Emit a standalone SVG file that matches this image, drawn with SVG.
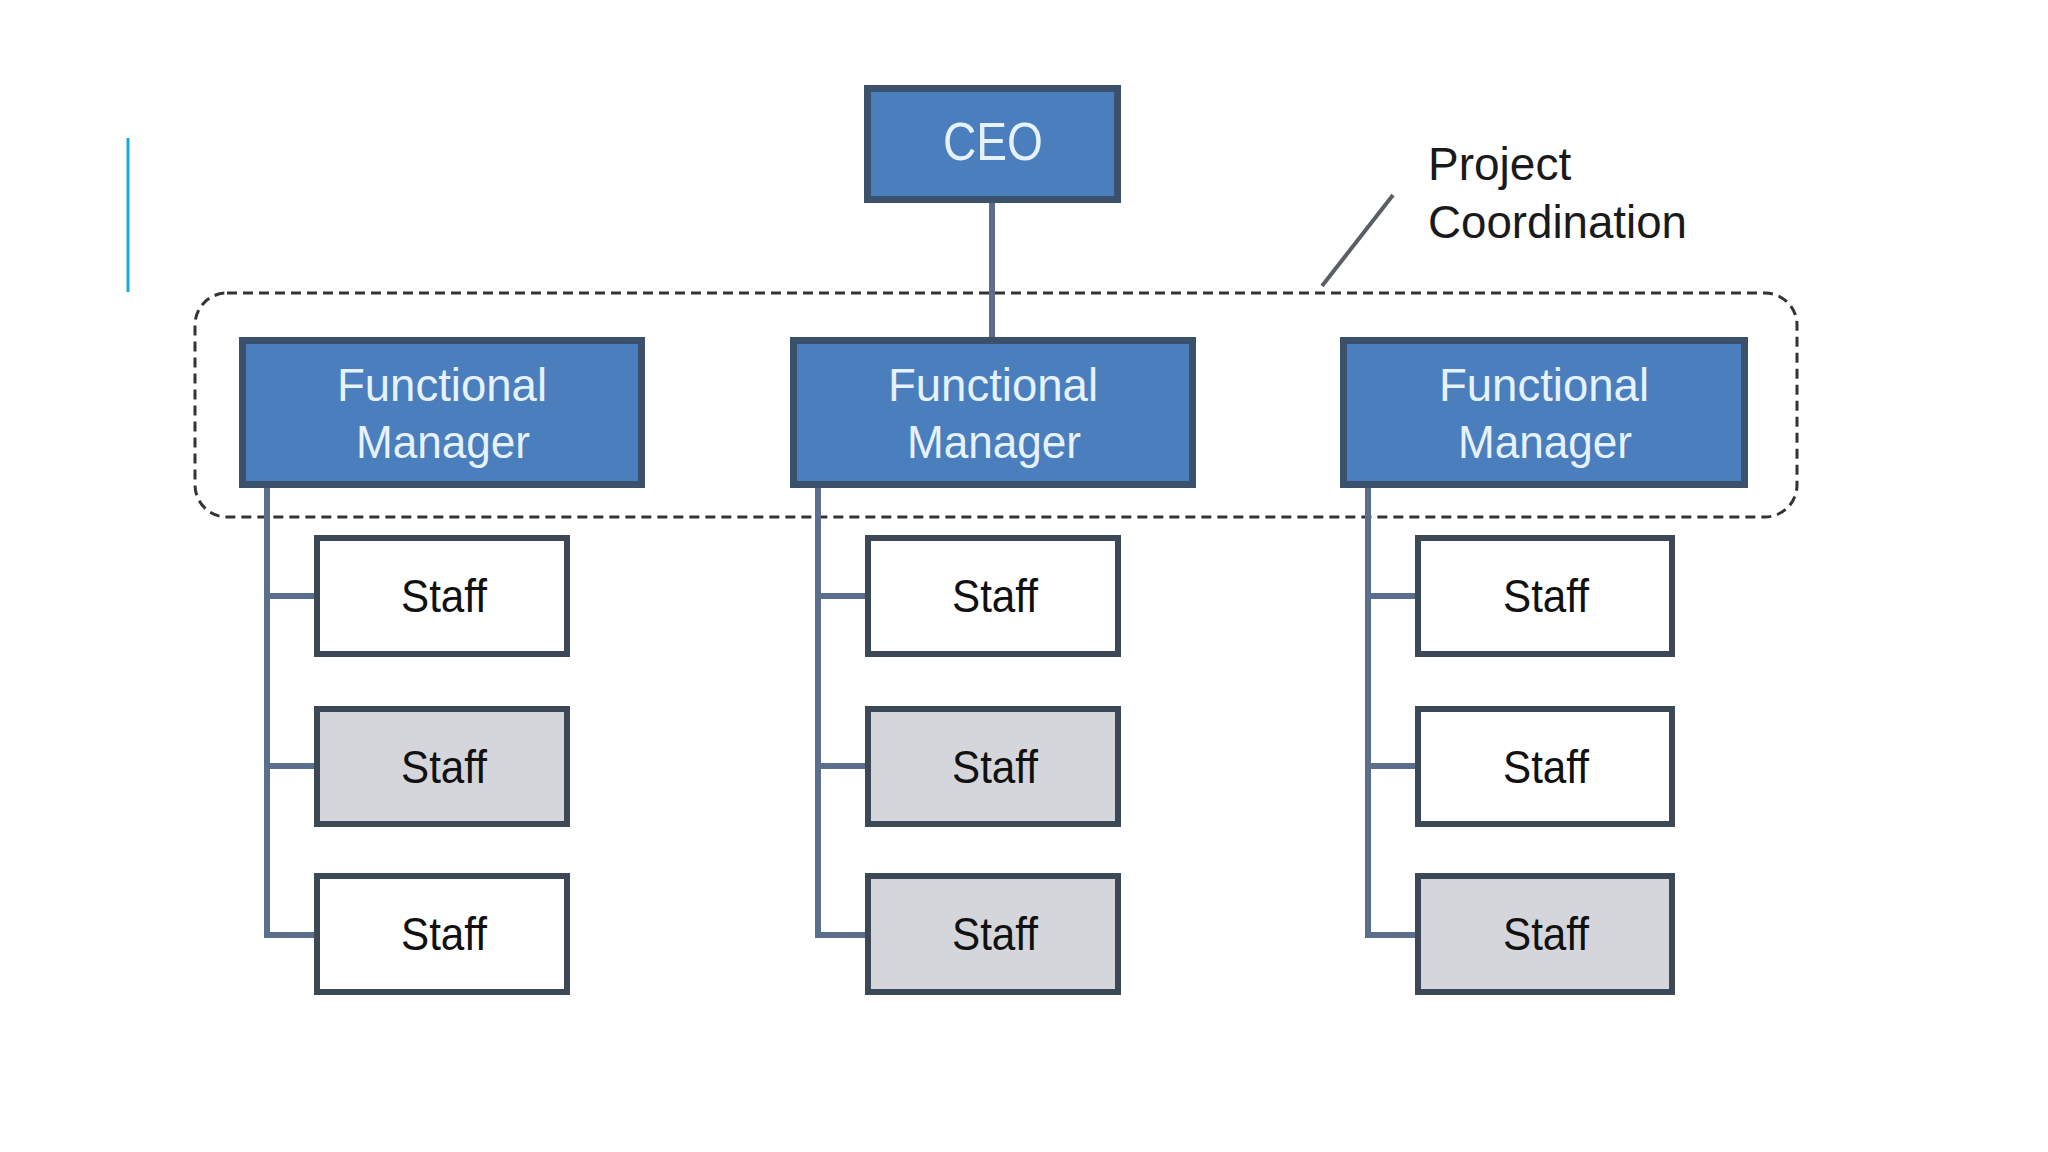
<svg xmlns="http://www.w3.org/2000/svg" width="2048" height="1152" viewBox="0 0 2048 1152">
<style>
.mgr{fill:#4a7ebc;stroke:#3b506b;stroke-width:7}
.staff{fill:#ffffff;stroke:#3d4856;stroke-width:6}
.gray{fill:#d5d6db}
.wt{font-family:"Liberation Sans",Arial,sans-serif;font-size:47px;fill:#e6f2ff;text-anchor:middle}
.ceo{font-size:54px}
.st{font-family:"Liberation Sans",Arial,sans-serif;font-size:47px;fill:#111;text-anchor:middle}
.lbl{font-family:"Liberation Sans",Arial,sans-serif;font-size:46px;fill:#1a1a1a}
.conn{fill:none;stroke:#5b6f8d;stroke-width:6}
</style>
<rect width="2048" height="1152" fill="#ffffff"/>
<line x1="128" y1="138" x2="128" y2="292" stroke="#1ba9e6" stroke-width="3"/>
<rect id="project-coordination-boundary" x="195" y="293" width="1602" height="224" rx="32" fill="none" stroke="#333" stroke-width="3" stroke-dasharray="10 6"/>
<g id="connectors">
<line class="conn" x1="992" y1="203" x2="992" y2="337"/>
<path class="conn" d="M267 488 V935 H314 M267 596 H314 M267 766 H314"/>
<path class="conn" d="M818 488 V935 H865 M818 596 H865 M818 766 H865"/>
<path class="conn" d="M1368 488 V935 H1415 M1368 596 H1415 M1368 766 H1415"/>
<line x1="1393" y1="195" x2="1322" y2="286" stroke="#5a5f66" stroke-width="4"/>
</g>
<g id="label-project-coordination">
<text class="lbl" x="1428" y="180">Project</text>
<text class="lbl" x="1428" y="238" textLength="259" lengthAdjust="spacingAndGlyphs">Coordination</text>
</g>
<g id="ceo">
<rect class="mgr" x="867.5" y="88.5" width="250" height="111"/>
<text class="wt ceo" x="993" y="160" textLength="100" lengthAdjust="spacingAndGlyphs">CEO</text>
</g>
<g id="fm1">
<rect class="mgr" x="242.5" y="340.5" width="399" height="144"/>
<text class="wt" x="442" y="401" textLength="210" lengthAdjust="spacingAndGlyphs">Functional</text>
<text class="wt" x="443" y="458" textLength="174" lengthAdjust="spacingAndGlyphs">Manager</text>
</g>
<g id="fm2">
<rect class="mgr" x="793.5" y="340.5" width="399" height="144"/>
<text class="wt" x="993" y="401" textLength="210" lengthAdjust="spacingAndGlyphs">Functional</text>
<text class="wt" x="994" y="458" textLength="174" lengthAdjust="spacingAndGlyphs">Manager</text>
</g>
<g id="fm3">
<rect class="mgr" x="1343.5" y="340.5" width="401" height="144"/>
<text class="wt" x="1544" y="401" textLength="210" lengthAdjust="spacingAndGlyphs">Functional</text>
<text class="wt" x="1545" y="458" textLength="174" lengthAdjust="spacingAndGlyphs">Manager</text>
</g>
<g id="staff-1-1"><rect class="staff" x="317" y="538" width="250" height="116"/><text class="st" x="444" y="612" textLength="86" lengthAdjust="spacingAndGlyphs">Staff</text></g>
<g id="staff-1-2"><rect class="staff gray" x="317" y="709" width="250" height="115"/><text class="st" x="444" y="783" textLength="86" lengthAdjust="spacingAndGlyphs">Staff</text></g>
<g id="staff-1-3"><rect class="staff" x="317" y="876" width="250" height="116"/><text class="st" x="444" y="950" textLength="86" lengthAdjust="spacingAndGlyphs">Staff</text></g>
<g id="staff-2-1"><rect class="staff" x="868" y="538" width="250" height="116"/><text class="st" x="995" y="612" textLength="86" lengthAdjust="spacingAndGlyphs">Staff</text></g>
<g id="staff-2-2"><rect class="staff gray" x="868" y="709" width="250" height="115"/><text class="st" x="995" y="783" textLength="86" lengthAdjust="spacingAndGlyphs">Staff</text></g>
<g id="staff-2-3"><rect class="staff gray" x="868" y="876" width="250" height="116"/><text class="st" x="995" y="950" textLength="86" lengthAdjust="spacingAndGlyphs">Staff</text></g>
<g id="staff-3-1"><rect class="staff" x="1418" y="538" width="254" height="116"/><text class="st" x="1546" y="612" textLength="86" lengthAdjust="spacingAndGlyphs">Staff</text></g>
<g id="staff-3-2"><rect class="staff" x="1418" y="709" width="254" height="115"/><text class="st" x="1546" y="783" textLength="86" lengthAdjust="spacingAndGlyphs">Staff</text></g>
<g id="staff-3-3"><rect class="staff gray" x="1418" y="876" width="254" height="116"/><text class="st" x="1546" y="950" textLength="86" lengthAdjust="spacingAndGlyphs">Staff</text></g>
</svg>
